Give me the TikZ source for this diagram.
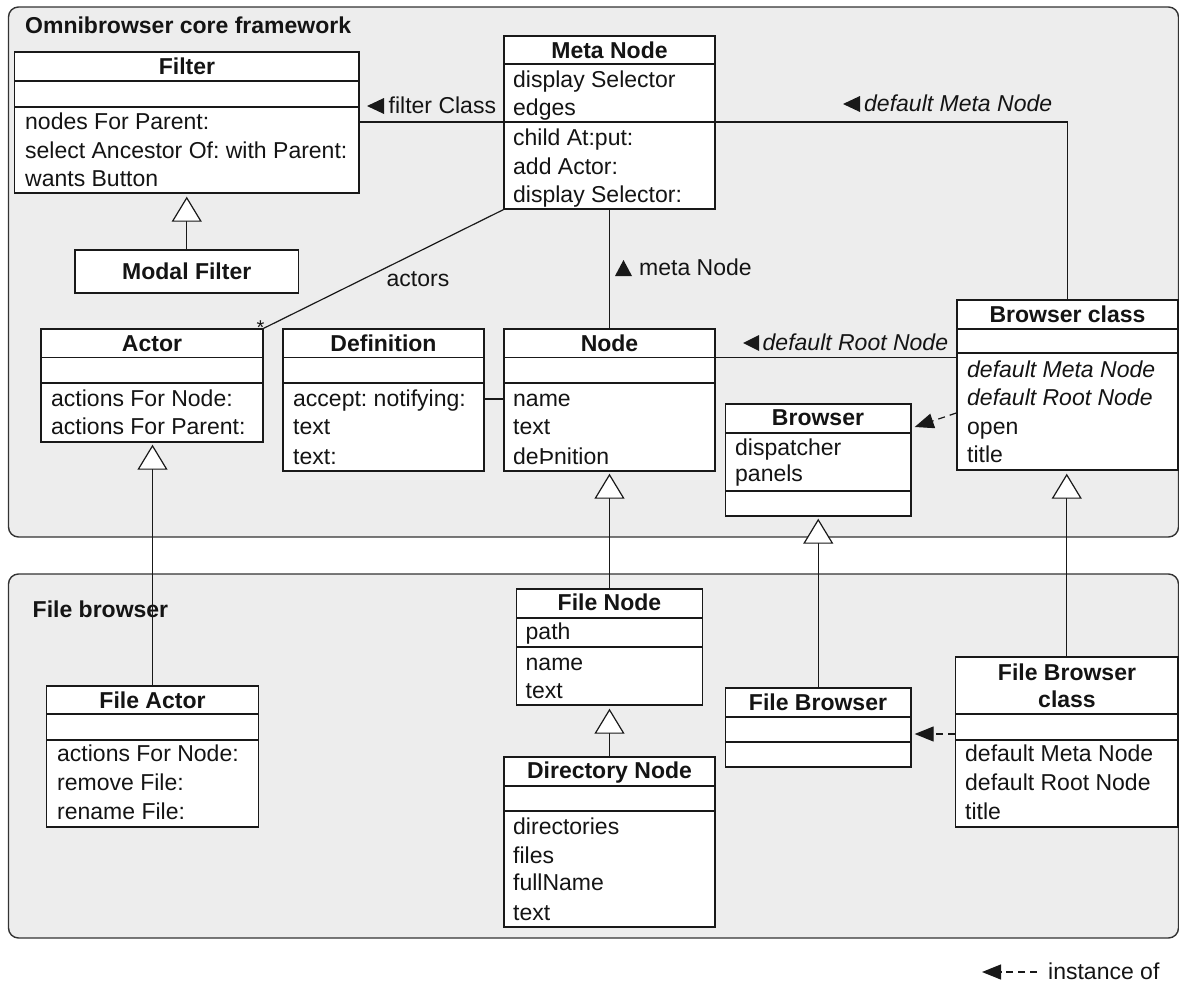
\documentclass[tikz,border=0pt]{standalone}
\usepackage{fontspec}
\setmainfont{Liberation Sans}
\usetikzlibrary{fit,arrows.meta,calc}
\frenchspacing
\newcommand\umlcls[6]{\node[clsbox, fit={(#2,#3) (#4,#5)}] (#1) {};\foreach \s in {#6}{\draw[sep] (#2,\s) -- (#4,\s);}}
\begin{document}
\begin{tikzpicture}[x=1pt,y=-1pt,
  every node/.style={font=\fontsize{23}{29}\selectfont, text=black!92},
  pkg/.style={draw=black!80, line width=1.4pt, fill=black!7, rounded corners=10pt, inner sep=0pt},
  clsbox/.style={draw=black!90, line width=1.4pt, fill=white, inner sep=0pt},
  sep/.style={draw=black!90, line width=1.4pt},
  txt/.style={anchor=west, inner sep=0pt, text height=17pt, text depth=3pt},
  itxt/.style={txt, font=\fontsize{23}{29}\selectfont\itshape},
  ttl/.style={anchor=center, inner sep=0pt, text height=17pt, text depth=3pt, font=\fontsize{23}{29}\selectfont\bfseries},
  assoc/.style={draw=black!90, line width=1.2pt},
  gen/.style={draw=black!90, line width=1.2pt, -{Triangle[open, fill=white, length=25pt, width=30pt]}},
  inst/.style={draw=black!90, line width=1.2pt, dash pattern=on 7pt off 5pt, -{Triangle[length=19pt, width=15pt]}},
  tri/.style={fill=black!90}
]
\useasboundingbox (0,0) rectangle (1179,985);

% packages
\node[pkg, fit={(8.5,7) (1178.5,537)}] (core) {};
\node[pkg, fit={(8.5,574) (1178.5,938)}] (fbpkg) {};
\node[ttl, anchor=west] (coret) at (25,26) {Omnibrowser core framework};
\node[ttl, anchor=west] (fbt) at (32.5,610) {File browser};

% Filter
\umlcls{filter}{14.5}{52}{359}{193}{81,107}
\node[ttl] (filterT) at (187,67) {Filter};
\node[txt] (f1) at (25,122) {nodes For Parent:};
\node[txt] (f2) at (25,151) {select Ancestor Of: with Parent:};
\node[txt] (f3) at (25,179) {wants Button};

% Modal Filter
\node[clsbox, fit={(75,250) (298.5,293)}] (modal) {};
\node[ttl] (modalT) at (186.75,272) {Modal Filter};

% Meta Node
\umlcls{meta}{504}{36}{715}{209}{64,122}
\node[ttl] (metaT) at (609.5,51) {Meta Node};
\node[txt] (m1) at (513,80) {display Selector};
\node[txt] (m2) at (513,108) {edges};
\node[txt] (m3) at (513,138) {child At:put:};
\node[txt] (m4) at (513,167) {add Actor:};
\node[txt] (m5) at (513,195) {display Selector:};

% Actor
\umlcls{actor}{41}{329}{263}{442}{357.5,383}
\node[ttl] (actorT) at (152,344) {Actor};
\node[txt] (a1) at (51,399) {actions For Node:};
\node[txt] (a2) at (51,427) {actions For Parent:};

% Definition
\umlcls{def}{283}{329}{484}{471}{357.5,383}
\node[ttl] (defT) at (383.5,344) {Definition};
\node[txt] (d1) at (293,399) {accept: notifying:};
\node[txt] (d2) at (293,427) {text};
\node[txt] (d3) at (293,457) {text:};

% Node
\umlcls{node}{504}{329}{715}{471}{357.5,383}
\node[ttl] (nodeT) at (609.5,344) {Node};
\node[txt] (n1) at (513,399) {name};
\node[txt] (n2) at (513,427) {text};
\node[txt] (n3) at (513,457) {deÞnition};

% Browser class
\umlcls{bclass}{957}{300}{1178}{470}{329,353}
\node[ttl] (bclassT) at (1067.5,315) {Browser class};
\node[itxt] (bc1) at (967,370) {default Meta Node};
\node[itxt] (bc2) at (967,398) {default Root Node};
\node[txt] (bc3) at (967,427) {open};
\node[txt] (bc4) at (967,455) {title};

% Browser
\umlcls{browser}{725.5}{404}{911}{516}{433,491}
\node[ttl] (browserT) at (818,418) {Browser};
\node[txt] (b1) at (735,448) {dispatcher};
\node[txt] (b2) at (735,474) {panels};

% File Actor
\umlcls{factor}{46.5}{686}{258.5}{827}{714,740}
\node[ttl] (factorT) at (152.5,701) {File Actor};
\node[txt] (fa1) at (57,754) {actions For Node:};
\node[txt] (fa2) at (57,783) {remove File:};
\node[txt] (fa3) at (57,812) {rename File:};

% File Node
\umlcls{fnode}{516.5}{589}{702.5}{705}{618,647}
\node[ttl] (fnodeT) at (609.5,603) {File Node};
\node[txt] (fn1) at (525.5,632) {path};
\node[txt] (fn2) at (525.5,663) {name};
\node[txt] (fn3) at (525.5,691) {text};

% Directory Node
\umlcls{dnode}{504}{757}{715}{927}{786,811}
\node[ttl] (dnodeT) at (609.5,771) {Directory Node};
\node[txt] (dn1) at (513,827) {directories};
\node[txt] (dn2) at (513,856) {files};
\node[txt] (dn3) at (513,883) {fullName};
\node[txt] (dn4) at (513,913) {text};

% File Browser
\umlcls{fbrowser}{725.5}{688}{911}{767}{717,742}
\node[ttl] (fbrowserT) at (818,703) {File Browser};

% File Browser class
\umlcls{fbclass}{955.5}{657}{1178}{827}{714,740}
\node[ttl] (fbclassT1) at (1067,673) {File Browser};
\node[ttl] (fbclassT2) at (1067,700) {class};
\node[txt] (fbc1) at (965,754) {default Meta Node};
\node[txt] (fbc2) at (965,783) {default Root Node};
\node[txt] (fbc3) at (965,812) {title};

% associations
\draw[assoc] (filter.east |- 0,122) -- (meta.west |- 0,122);
\draw[assoc] (meta.east |- 0,122) -| (bclass.north);
\draw[assoc] (meta.south west) -- (actor.north east);
\draw[assoc] (meta.south) -- (meta.south |- node.north);
\draw[assoc] (def.east |- 0,399) -- (node.west |- 0,399);
\draw[assoc] (node.east |- 0,357.5) -- (bclass.west |- 0,357.5);

% association labels
\node[txt] (lfc) at (388.5,106) {filter Class};
\fill[tri] (367,106) -- ++(17,-8) -- ++(0,16) -- cycle;
\node[itxt] (ldmn) at (864,104) {default Meta Node};
\fill[tri] (843,104) -- ++(17,-8) -- ++(0,16) -- cycle;
\node[anchor=center, inner sep=0pt, text height=17pt, text depth=3pt] (lact) at (418,279) {actors};
\node[inner sep=0pt, font=\fontsize{20}{20}\selectfont] (star) at (260.5,328) {*};
\node[txt] (lmn) at (639,268) {meta Node};
\fill[tri] (615,276) -- (632,276) -- (623.5,260) -- cycle;
\node[itxt] (ldrn) at (762.5,343) {default Root Node};
\fill[tri] (743,343) -- ++(16,-8) -- ++(0,16) -- cycle;

% instance-of
\draw[inst] (bclass.west |- 0,413) -- ($(browser.east |- 0,427)+(3,0)$);
\draw[inst] (fbclass.west |- 0,734) -- ($(fbrowser.east |- 0,734)+(3,0)$);

% generalizations
\draw[gen] (modal.north) -- ($(filter.south)+(0,3)$);
\draw[gen] (factor.north) -- ($(factor.north |- actor.south)+(0,2)$);
\draw[gen] (fnode.north) -- ($(node.south)+(0,2)$);
\draw[gen] (dnode.north) -- ($(dnode.north |- fnode.south)+(0,3)$);
\draw[gen] (fbrowser.north) -- ($(browser.south)+(0,2)$);
\draw[gen] (fbclass.north) -- ($(fbclass.north |- bclass.south)+(0,3)$);

% legend
\coordinate (legA) at (1037,972);
\coordinate (legB) at (982,972);
\draw[inst] (legA) -- (legB);
\node[txt] (legT) at (1048,972) {instance of};
\end{tikzpicture}
\end{document}
